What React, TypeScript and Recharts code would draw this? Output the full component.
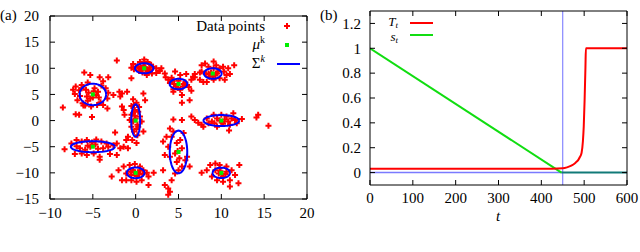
import React from 'react';
import {
  ScatterChart,
  Scatter,
  LineChart,
  Line,
  XAxis,
  YAxis,
  ReferenceLine,
} from 'recharts';

// ---- panel (a): samples, per cluster ----
const cluster1 = [[-6,9.2],[-5.3,8.7],[-4.2,8.3],[-3.2,8.3],[-3.8,7.5],[-5.6,7.3],[-7.3,5.9],[-7,6.5],[-6.6,5.8],[-6.3,6.8],[-4,6.7],[-3.5,6.2],[-3.2,5.3],[-3.3,4.2],[-6.5,4.7],[-6.8,3.9],[-6.2,3.3],[-6.1,2.9],[-5.6,3.8],[-5.3,4.2],[-4.6,4.9],[-4.9,5.6],[-5.5,5.3],[-4.3,4.4],[-4.1,3.5],[-3.8,3],[-5.9,2.9],[-5.2,2.7],[-3.3,2.3],[-7,1.2],[-6.6,1.1],[-5.1,0.7],[-4.5,3],[-5.8,5.9],[-4.8,6.2],[-6.3,6.2],[-7.1,5.1],[-5,4.4],[-4.4,5.5],[-5.7,4.6],[-8.5,2.5],[-2.2,11.5]];
const cluster2 = [[1,11.7],[1.4,11.2],[0.5,11.2],[-0.3,10.8],[0.2,10.4],[1.8,10.7],[2,10.3],[2.4,10],[2.8,9.6],[0.4,9.5],[0.8,9.2],[1.5,9.3],[1.9,9],[-0.2,9.8],[-0.5,10.1],[1.3,8.7],[2.4,9.1],[3,10],[0.9,10.5],[1.2,9.8],[0.6,10.1],[1.6,10.1],[-0.5,8.1],[2.8,9.5],[1.1,10.2],[0.7,9.7],[1.4,9.6],[1.7,9.7],[0.3,10.2],[1,11]];
const cluster3 = [[3.5,8.3],[3.8,7.8],[4.6,9.4],[5.2,8.7],[5.9,8.9],[6.5,7.8],[6.7,8.4],[4.4,6],[5.2,5.9],[6.2,6.4],[6.5,5.7],[5.4,4.9],[6.3,3.9],[5.4,3.4],[4.4,5.5],[3.4,9],[4,7.2],[4.3,7.6],[4.7,6.6],[5.5,6.5],[5.8,7.3],[4.5,7],[5,7.6],[5.6,7],[4.2,8.2],[6,6.8],[4.9,6.3],[7.5,7.8],[7.9,7.4],[7.5,9.2],[6.9,8.9],[6.9,8.3]];
const cluster4 = [[9.1,11.3],[9.4,10.6],[8.5,10.3],[9.8,10],[10.3,9.4],[10.8,10],[10.6,8.7],[11,8.9],[10.4,7.8],[9.8,8.1],[9.1,7.8],[8.2,8.9],[7.7,10.6],[7.7,9.4],[8.1,10.9],[9.1,10],[9.6,9.4],[10.2,10.3],[8.3,7.4],[8.6,8.4],[8.8,9.2],[9.3,8.7],[8.5,9],[9.5,9],[9,8.5],[11.5,10.6]];
const cluster5 = [[-0.3,4.1],[0.1,3.4],[-0.5,2.8],[-0.1,2],[0.3,1.7],[0.5,0.8],[-0.5,1.1],[-0.7,0.1],[0.7,-0.2],[-0.5,-1.2],[0.3,-1.2],[-0.2,-2.1],[0.2,-2.8],[-0.4,-3.7],[0.1,-4.3],[-0.9,-3.1],[-1.4,2],[-1.6,2.7],[-1.3,1.1],[-1.8,4.6],[-2.6,4.9],[-1.9,5.5],[-0.3,-0.2],[0,0.4],[-0.3,1.4],[0.4,2.6],[0.9,-2.1],[0.9,5.2],[1.1,3.9],[0.2,-0.8],[-0.1,0.9],[0.1,-1.6],[-0.2,3],[-1.6,5.2],[-1,5.5]];
const cluster6 = [[6.5,0.8],[6.9,0.1],[7.3,-0.4],[7.7,-0.8],[8.3,0.4],[8.5,-0.5],[9.1,1.1],[9.5,0.4],[10,1.1],[10.6,0.8],[11.2,0.4],[11.6,0.1],[12.4,0.3],[11,-0.8],[10.2,-0.6],[9.5,-1.2],[10.9,-1.9],[7.9,-1.2],[14.3,1.1],[14.1,0.6],[15.5,-1],[11.4,1.4],[8.9,-0.2],[9.8,0],[10.4,0.2],[10.8,-0.2],[9.2,-0.5],[10.1,-0.3],[11.8,-0.5]];
const cluster7 = [[-8.3,-5.5],[-7.5,-4.4],[-6.9,-3.7],[-6.3,-4],[-5.7,-3.7],[-5.1,-4.2],[-4.6,-3.6],[-4,-4],[-3.4,-4.4],[-2.6,-4.7],[-2.2,-4.4],[-1.8,-5.3],[-1.4,-5],[-2.2,-6.6],[-3,-6.4],[-4.2,-6.9],[-4.2,-7.5],[-4.9,-6.3],[-5.7,-6.6],[-6.3,-6.3],[-7.1,-6.4],[-6.5,-5.3],[-5.3,-5],[-3.8,-5.3],[-5.9,-5.6],[-2.4,-2.3],[-1.1,-3.7],[-0.9,-5.3],[-4.7,-4.6],[-5.6,-4.8],[-4.4,-5.4],[-3.2,-5],[-6.9,-4.9]];
const cluster8 = [[4.4,0.2],[5.4,0.1],[4,-1.5],[4.4,-2.1],[3.6,-3.1],[3.2,-4],[3.8,-5],[3.4,-6.6],[4,-6.9],[4.6,-6.3],[5.2,-3.7],[5.6,-2.4],[5.4,-5.3],[4.8,-7.9],[5.4,-8.8],[5.8,-7.6],[3.2,-9.5],[3.4,-12.3],[3.8,-13],[4,-13.6],[3.8,-14.2],[4.2,-11.4],[4.6,-10.1],[5,-9.5],[6.3,-8.8],[6,-6.9],[4.8,-4.3],[4.2,-3.1],[7.7,-10],[4.9,-5.8],[5.1,-7.2]];
const cluster9 = [[-2.8,-10.7],[-2,-9.5],[-1.4,-8.8],[-1.1,-10.1],[-0.7,-8.5],[-0.1,-8.3],[0.5,-8.8],[0.9,-9.5],[1.3,-10],[1.5,-10.7],[2.1,-10],[0.7,-11.4],[0.1,-11.7],[-0.5,-11.4],[-1.1,-11.4],[1.5,-12.3],[-0.3,-9.5],[0.3,-10],[-0.5,-10.4],[0.1,-10.6],[0.5,-9.5],[-1.6,-11.4],[-0.2,-9.9],[0.4,-10.3],[-0.6,-9.8],[0.8,-10.2]];
const cluster10 = [[8.3,-9.5],[8.7,-8.5],[9.3,-8.2],[9.8,-8.5],[10.6,-8.8],[11.2,-9.5],[12.1,-8.5],[11.6,-10.4],[12,-12],[11,-12.6],[10.2,-11.7],[9.5,-11.4],[8.9,-10.7],[9.7,-10.1],[10.2,-10.7],[10.6,-9.8],[9.3,-9.5],[11,-11.4],[9.8,-9.1],[10.1,-10.3],[9.9,-9.7],[10.5,-10.2]];

// cluster means and the half-axes of the Sigma ellipses
const muX = [-5, 1, 5, 9, 0, 10, -5, 5, 0, 10];
const muY = [5, 10, 7, 9, 0, 0, -5, -6, -10, -10];
const sigmaRx = [1.55, 1.08, 1.03, 1.03, 0.52, 2.08, 2.57, 1.02, 1.03, 1.01];
const sigmaRy = [2.05, 0.97, 0.99, 1.0, 3.1, 1.05, 1.05, 4.08, 1.02, 1.0];

const xTicksA = [-10, -5, 0, 5, 10, 15, 20];
const yTicksA = [-15, -10, -5, 0, 5, 10, 15, 20];

// ---- panel (b) ----
const tTimes = [0, 100, 200, 300, 400, 450, 460, 470, 480, 486, 490, 494, 497, 499, 501, 503, 504, 600];
const tValues = [0.03, 0.03, 0.03, 0.03, 0.03, 0.035, 0.042, 0.055, 0.08, 0.1, 0.125, 0.16, 0.25, 0.37, 0.58, 0.85, 1, 1];
const sTimes = [0, 447];
const sValues = [1, 0];
const sTailTimes = [447, 600];
const sTailValues = [0, 0];
const baseTimes = [0, 450];
const baseValues = [0, 0];
const switchTime = 450;

const xTicksB = [0, 100, 200, 300, 400, 500, 600];
const yTicksB = [0, 0.2, 0.4, 0.6, 0.8, 1, 1.2];

const FONT = 'Liberation Serif, DejaVu Serif, serif';
const tickStyle = { fontSize: 15, fill: '#000', fontFamily: FONT };
const noLabel = () => <g />;

const points = [cluster1, cluster2, cluster3, cluster4, cluster5, cluster6, cluster7, cluster8, cluster9, cluster10]
  .flat()
  .map(([x, y]) => ({ x, y }));
const centers = muX.map((x, i) => ({ x, y: muY[i] }));

// outline of each Sigma ellipse, traced around its mean
const ellipses = muX.map((cx, i) =>
  Array.from({ length: 73 }, (_, k) => {
    const a = (k / 72) * 2 * Math.PI;
    return { x: cx + sigmaRx[i] * Math.cos(a), y: muY[i] + sigmaRy[i] * Math.sin(a) };
  })
);

const zip = (ts: number[], vs: number[]) => ts.map((t, i) => ({ t, v: vs[i] }));

const minus = (v: number) => String(v).replace('-', '\u2212');

const Plus = (p: any) => (
  <path
    d={`M${p.cx - 3},${p.cy}h6M${p.cx},${p.cy - 3}v6`}
    stroke="#ff0000"
    strokeWidth={2}
  />
);
const Square = (p: any) => <rect x={p.cx - 2} y={p.cy - 2} width={4} height={4} fill="#00ee00" />;

function PanelA() {
  return (
    <ScatterChart
      width={320}
      height={252}
      margin={{ top: 15, right: 12, bottom: 23, left: 0 }}
      style={{ position: 'absolute', left: 0, top: 0 }}
    >
      <XAxis
        xAxisId="b"
        type="number"
        dataKey="x"
        domain={[-10, 20]}
        ticks={xTicksA}
        height={30}
        tickSize={-5}
        tickMargin={13}
        tick={tickStyle}
        tickFormatter={minus}
        stroke="#000"
        allowDataOverflow
      />
      <XAxis
        xAxisId="t"
        orientation="top"
        type="number"
        dataKey="x"
        domain={[-10, 20]}
        ticks={xTicksA}
        height={1}
        tickSize={-5}
        tick={noLabel}
        stroke="#000"
        allowDataOverflow
      />
      <YAxis
        yAxisId="l"
        type="number"
        dataKey="y"
        domain={[-15, 20]}
        ticks={yTicksA}
        width={50}
        tickSize={-5}
        tickMargin={16}
        tick={tickStyle}
        tickFormatter={minus}
        stroke="#000"
        allowDataOverflow
      />
      <YAxis
        yAxisId="r"
        orientation="right"
        type="number"
        dataKey="y"
        domain={[-15, 20]}
        ticks={yTicksA}
        width={1}
        tickSize={-5}
        tick={noLabel}
        stroke="#000"
        allowDataOverflow
      />
      <Scatter xAxisId="b" yAxisId="l" data={points} shape={Plus} isAnimationActive={false} />
      <Scatter xAxisId="b" yAxisId="l" data={centers} shape={Square} isAnimationActive={false} />
      {ellipses.map((pts, i) => (
        <Scatter
          key={i}
          xAxisId="b"
          yAxisId="l"
          data={pts}
          line={{ stroke: '#0000ff', strokeWidth: 2 }}
          shape={noLabel}
          isAnimationActive={false}
        />
      ))}
    </ScatterChart>
  );
}

function PanelB() {
  return (
    <LineChart
      width={320}
      height={252}
      margin={{ top: 10, right: 12, bottom: 37, left: 0 }}
      style={{ position: 'absolute', left: 320, top: 0 }}
    >
      <XAxis
        xAxisId="b"
        type="number"
        dataKey="t"
        domain={[0, 600]}
        ticks={xTicksB}
        height={30}
        tickSize={-5}
        tickMargin={12}
        tick={tickStyle}
        stroke="#000"
        allowDataOverflow
      />
      <XAxis
        xAxisId="t"
        orientation="top"
        type="number"
        dataKey="t"
        domain={[0, 600]}
        ticks={xTicksB}
        height={1}
        tickSize={-5}
        tick={noLabel}
        stroke="#000"
        allowDataOverflow
      />
      <YAxis
        yAxisId="l"
        type="number"
        domain={[-0.1, 1.3]}
        ticks={yTicksB}
        width={50}
        tickSize={-5}
        tickMargin={14}
        tick={tickStyle}
        tickFormatter={(v: number) => String(Number(v.toFixed(1)))}
        stroke="#000"
        allowDataOverflow
      />
      <YAxis
        yAxisId="r"
        orientation="right"
        type="number"
        domain={[-0.1, 1.3]}
        ticks={yTicksB}
        width={1}
        tickSize={-5}
        tick={noLabel}
        stroke="#000"
        allowDataOverflow
      />
      <ReferenceLine xAxisId="b" yAxisId="l" x={switchTime} stroke="#6f6fff" strokeWidth={1} />
      <Line xAxisId="b" yAxisId="l" data={zip(baseTimes, baseValues)} dataKey="v" type="linear" stroke="#7a7aff" strokeWidth={1.5} dot={false} isAnimationActive={false} />
      <Line xAxisId="b" yAxisId="l" data={zip(sTailTimes, sTailValues)} dataKey="v" type="linear" stroke="#127a78" strokeWidth={2} dot={false} isAnimationActive={false} />
      <Line xAxisId="b" yAxisId="l" data={zip(sTimes, sValues)} dataKey="v" type="linear" stroke="#11dd11" strokeWidth={2} dot={false} isAnimationActive={false} />
      <Line xAxisId="b" yAxisId="l" data={zip(tTimes, tValues)} dataKey="v" type="monotone" stroke="#ff0000" strokeWidth={2} dot={false} isAnimationActive={false} />
    </LineChart>
  );
}

function Labels() {
  return (
    <svg
      width={640}
      height={252}
      style={{ position: 'absolute', left: 0, top: 0, pointerEvents: 'none' }}
      fontFamily={FONT}
      fontSize={15}
    >
      <text x={0} y={20}>(a)</text>
      <text x={320} y={20}>(b)</text>

      {/* legend (a) */}
      <text x={265} y={31} textAnchor="end">Data points</text>
      <path d="M284,26h6M287,23v6" stroke="#ff0000" strokeWidth={2} />
      <text x={265} y={49} textAnchor="end">
        <tspan fontStyle="italic">μ</tspan>
        <tspan dy={-6} fontSize={10}>k</tspan>
      </text>
      <rect x={285} y={43} width={4} height={4} fill="#00ee00" />
      <text x={265} y={68} textAnchor="end">
        <tspan>Σ</tspan>
        <tspan dy={-6} fontSize={10} fontStyle="italic">k</tspan>
      </text>
      <line x1={277} y1={64} x2={300} y2={64} stroke="#0000ff" strokeWidth={2} />

      {/* legend (b) */}
      <text x={398} y={26} textAnchor="end" fontSize={13}>
        <tspan fontStyle="italic">T</tspan>
        <tspan dy={1.5} fontSize={9} fontStyle="italic">t</tspan>
      </text>
      <line x1={410} y1={23} x2={433} y2={23} stroke="#ff0000" strokeWidth={2} />
      <text x={398} y={41} textAnchor="end" fontSize={13}>
        <tspan fontStyle="italic">s</tspan>
        <tspan dy={1.5} fontSize={9} fontStyle="italic">t</tspan>
      </text>
      <line x1={410} y1={35} x2={433} y2={35} stroke="#11dd11" strokeWidth={2} />

      <text x={498} y={221} textAnchor="middle" fontStyle="italic">t</text>
    </svg>
  );
}

export default function App() {
  return (
    <div style={{ position: 'absolute', left: 0, top: 0, width: 640, height: 252, background: '#fff' }}>
      <PanelA />
      <PanelB />
      <Labels />
    </div>
  );
}
